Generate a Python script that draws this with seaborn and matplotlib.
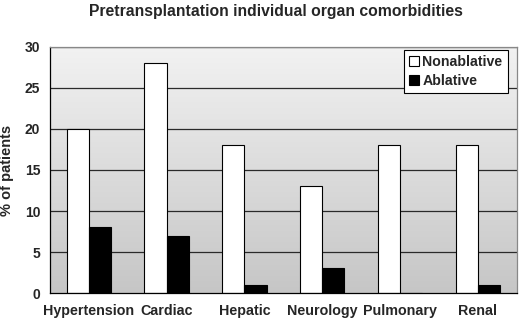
import matplotlib
matplotlib.use("Agg")
import matplotlib.pyplot as plt
import numpy as np
import pandas as pd
import seaborn as sns
from matplotlib.colors import LinearSegmentedColormap

categories = ["Hypertension", "Cardiac", "Hepatic", "Neurology", "Pulmonary", "Renal"]
nonablative = [20, 28, 18, 13, 18, 18]
ablative = [8, 7, 1, 3, 0, 1]
groups = ["Nonablative", "Ablative"]
y_ticks = [0, 5, 10, 15, 20, 25, 30]

sns.set_style("white")
plt.rcParams["font.family"] = ["Liberation Sans", "DejaVu Sans"]
plt.rcParams["font.weight"] = "bold"

df = pd.DataFrame(
    {
        "category": categories * 2,
        "value": nonablative + ablative,
        "group": [groups[0]] * len(categories) + [groups[1]] * len(categories),
    }
)

fig = plt.figure(figsize=(5.2, 3.21), dpi=100)
ax = fig.add_axes([0.096, 0.087, 0.898, 0.767])

# gray gradient background, lighter at the top
cmap = LinearSegmentedColormap.from_list("bg", ["#c6c6c6", "#f2f2f2"])
grad = np.linspace(0, 1, 256).reshape(-1, 1)
ax.imshow(grad, extent=[-0.5, 5.5, 0, 30], origin="lower", aspect="auto",
          cmap=cmap, zorder=0)

for y in y_ticks[1:]:
    ax.axhline(y, color="#2a2a2a", lw=0.9, zorder=1)

sns.barplot(
    data=df, x="category", y="value", hue="group",
    palette=["white", "black"], edgecolor="black", linewidth=0.8,
    width=0.57, gap=0, ax=ax, zorder=2,
)

ax.set_xlim(-0.5, 5.5)
ax.set_ylim(0, 30)
ax.set_yticks(y_ticks)
ax.set_xticks(range(len(categories)))
ax.set_xticks(np.arange(-0.5, 6.0, 1), minor=True)
ax.tick_params(axis="x", which="major", length=0, pad=8, labelsize=10.3)
ax.tick_params(axis="x", which="minor", length=4, width=0.8, color="black",
               direction="out")
ax.tick_params(axis="y", length=4, width=0.8, color="black", direction="out",
               labelsize=10, pad=3)
for lab in ax.get_xticklabels() + ax.get_yticklabels():
    lab.set_fontweight("bold")

ax.set_xlabel("")
ax.set_ylabel("% of patients", fontsize=10.5, fontweight="bold")
ax.yaxis.set_label_coords(-0.077, 0.5)

ax.spines["left"].set_color("black")
ax.spines["bottom"].set_color("black")
ax.spines["top"].set_color("#888888")
ax.spines["right"].set_color("#888888")
for s in ax.spines.values():
    s.set_linewidth(0.9)

leg = ax.legend(
    loc="upper right", bbox_to_anchor=(0.986, 1.0), frameon=True, fancybox=False,
    edgecolor="black", framealpha=1, handlelength=0.7, handleheight=0.7,
    handletextpad=0.25, borderpad=0.35, labelspacing=0.35, borderaxespad=0.2,
    prop={"weight": "bold", "size": 10.2},
)
leg.get_frame().set_linewidth(0.8)

fig.text(0.53, 0.965, "Pretransplantation individual organ comorbidities",
         ha="center", va="center", fontsize=11.3, fontweight="bold")

fig.savefig("out.png", dpi=100)
